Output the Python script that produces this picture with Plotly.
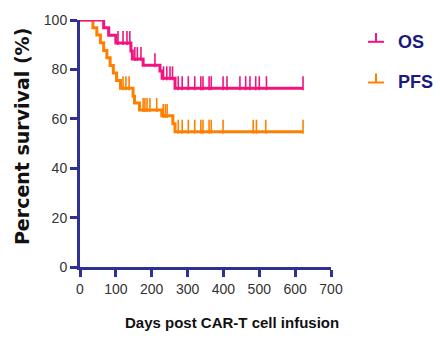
import plotly.graph_objects as go

# Kaplan-Meier step data (days, percent surviving)
os_time = [0, 66, 80, 100, 142, 146, 176, 223, 229, 265]
os_surv = [100, 96.9, 93.8, 90.7, 87.4, 84.2, 81.7, 79.4, 76.4, 72.4]
os_last = 622
os_censor = [22, 29, 41, 47, 59, 64, 106, 120, 131, 139, 153, 160, 170, 209,
             233, 242, 251, 258, 274, 285, 302, 320, 337, 343, 360, 366, 399,
             410, 446, 462, 474, 490, 500, 520, 622]

pfs_time = [0, 36, 47, 57, 66, 75, 84, 93, 102, 113, 148, 152, 166, 228, 259, 265]
pfs_surv = [100, 96.9, 93.9, 90.8, 87.7, 84.7, 81.6, 78.5, 75.5, 72.4,
            69.1, 66.4, 63.6, 61.2, 58.0, 54.8]
pfs_last = 622
pfs_censor = [30, 120, 128, 137, 176, 181, 187, 195, 214, 232, 238, 243,
              274, 285, 302, 320, 337, 343, 360, 366, 399, 483, 492, 518, 622]

x_ticks = [0, 100, 200, 300, 400, 500, 600, 700]
y_ticks = [0, 20, 40, 60, 80, 100]

OS_COLOR = "#F0147F"
PFS_COLOR = "#FF8000"
AXIS_COLOR = "#2E3192"
LABEL_NAVY = "#1A1A7E"
SANS = "Liberation Sans, Arial, sans-serif"
TICK_FONT = dict(family=SANS, size=14, color="#333333")
TICK_H = 4.0  # censor tick height, in percent units


def level_at(times, survs, t):
    s = survs[0]
    for ti, si in zip(times, survs):
        if ti <= t:
            s = si
    return s


fig = go.Figure()


def add_curve(times, survs, last, censor, color):
    fig.add_trace(go.Scatter(
        x=list(times) + [last], y=list(survs) + [survs[-1]],
        mode="lines", line=dict(color=color, width=3, shape="hv"),
        cliponaxis=False, showlegend=False, hoverinfo="skip"))
    # upward censor ticks: vertical-line markers sitting on the curve
    ys = [level_at(times, survs, t) + TICK_H / 2 for t in censor]
    fig.add_trace(go.Scatter(
        x=censor, y=ys, mode="markers",
        marker=dict(symbol="line-ns", size=10,
                    line=dict(color=color, width=1.6)),
        cliponaxis=False, showlegend=False, hoverinfo="skip"))


add_curve(pfs_time, pfs_surv, pfs_last, pfs_censor, PFS_COLOR)
add_curve(os_time, os_surv, os_last, os_censor, OS_COLOR)

axis_common = dict(showline=True, linecolor=AXIS_COLOR, linewidth=3,
                   ticks="outside", ticklen=7, tickwidth=3, tickcolor=AXIS_COLOR,
                   showgrid=False, zeroline=False, tickfont=TICK_FONT)

fig.update_xaxes(range=[0, 700], tickvals=x_ticks, **axis_common)
fig.update_yaxes(range=[0, 100], tickvals=y_ticks, **axis_common)

# plot area in pixels: x 80..331, y 18..267
PL, PR, PT, PB = 80, 331, 18, 267


def px(x):
    return (x - PL) / (PR - PL)


def py(y):
    return (PB - y) / (PB - PT)


# axis titles
fig.add_annotation(text="<b>Days post CAR-T cell infusion</b>", xref="paper", yref="paper",
                   x=px(232), y=py(323), xanchor="center", yanchor="middle",
                   showarrow=False, font=dict(family=SANS, size=15, color="#111111"))
fig.add_annotation(text="<b>Percent survival (%)</b>", xref="paper", yref="paper",
                   x=px(22), y=py(136), xanchor="center", yanchor="middle", textangle=-90,
                   showarrow=False, font=dict(family="DejaVu Sans", size=19, color="#111111"))

# legend drawn as censor-tick glyphs with labels
for label, color, yc in [("OS", OS_COLOR, 40), ("PFS", PFS_COLOR, 81)]:
    fig.add_shape(type="line", xref="paper", yref="paper",
                  x0=px(368), x1=px(384), y0=py(yc), y1=py(yc),
                  line=dict(color=color, width=2))
    fig.add_shape(type="line", xref="paper", yref="paper",
                  x0=px(376), x1=px(376), y0=py(yc), y1=py(yc - 9),
                  line=dict(color=color, width=2))
    fig.add_annotation(text=f"<b>{label}</b>", xref="paper", yref="paper",
                       x=px(396), y=py(yc), xanchor="left", yanchor="middle",
                       showarrow=False,
                       font=dict(family=SANS, size=18, color=LABEL_NAVY))

fig.update_layout(width=440, height=339,
                  margin=dict(l=PL, r=440 - PR, t=PT, b=339 - PB),
                  plot_bgcolor="white", paper_bgcolor="white")

fig.write_html("out.html")
